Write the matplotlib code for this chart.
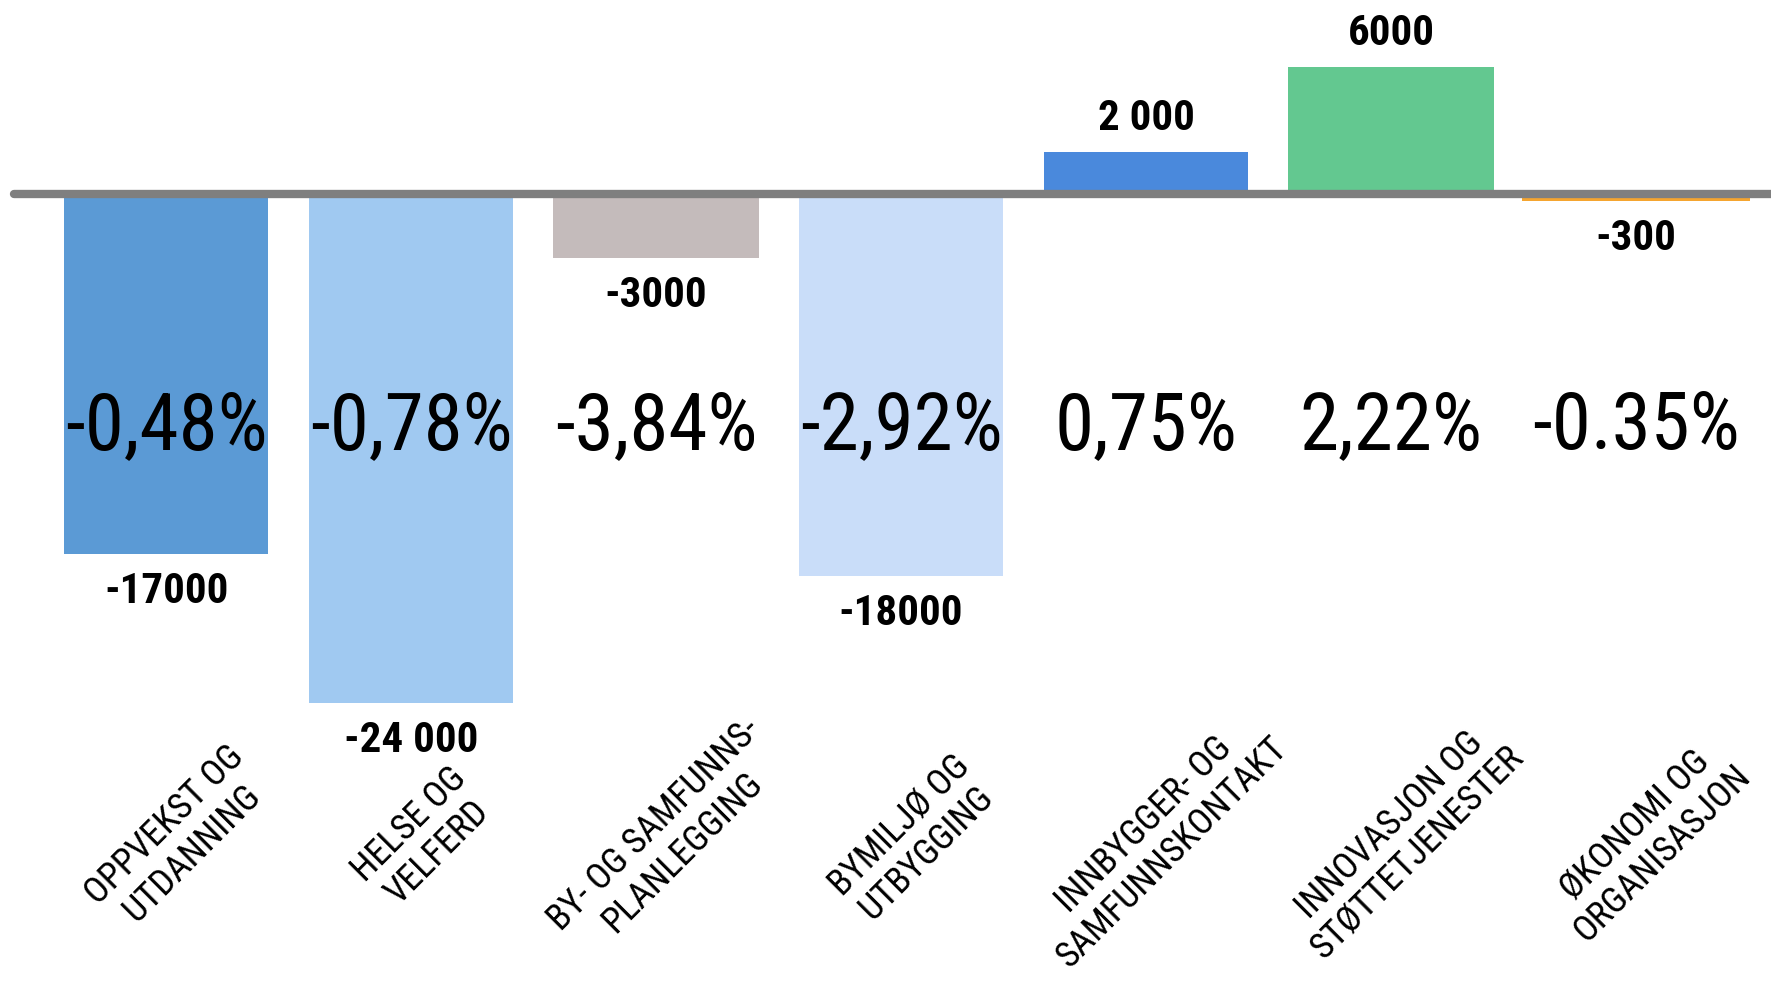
import matplotlib
matplotlib.use("Agg")
import matplotlib.pyplot as plt
from matplotlib import font_manager as fm
import matplotlib.transforms as mtransforms

# ---- data ----
categories = ["OPPVEKST OG\nUTDANNING", "HELSE OG\nVELFERD", "BY- OG SAMFUNNS-\nPLANLEGGING",
              "BYMILJØ OG\nUTBYGGING", "INNBYGGER- OG\nSAMFUNNSKONTAKT",
              "INNOVASJON OG\nSTØTTETJENESTER", "ØKONOMI OG\nORGANISASJON"]
values = [-17000, -24000, -3000, -18000, 2000, 6000, -300]
value_labels = ["-17000", "-24 000", "-3000", "-18000", "2 000", "6000", "-300"]
pct_labels = ["-0,48%", "-0,78%", "-3,84%", "-2,92%", "0,75%", "2,22%", "-0.35%"]
colors = ["#5B9AD5", "#A0C9F1", "#C4BBBB", "#C9DDF9", "#4A89DC", "#63C890", "#F5A52F"]
widths = [0.83, 0.83, 0.84, 0.83, 0.83, 0.84, 0.93]

# ---- font choice: narrowest available ----
names = {f.name for f in fm.fontManager.ttflist}
family = "DejaVu Sans"
stretch = "normal"
for cand in ["Liberation Sans Narrow", "Roboto Condensed", "Open Sans Condensed", "DejaVu Sans Condensed"]:
    if cand in names:
        family = cand
        break
else:
    cond = [f for f in fm.fontManager.ttflist if str(f.stretch) in ("condensed", "semi-condensed", "extra-condensed")
            and f.name in ("DejaVu Sans", "Roboto", "Open Sans", "Noto Sans", "Inter", "Lato")]
    if cond:
        family = cond[0].name
        stretch = str(cond[0].stretch)

plt.rcParams["font.family"] = [family, "DejaVu Sans"]

fig = plt.figure(figsize=(17.71, 9.81), dpi=100)
ax = fig.add_axes([0, 0, 1, 1])
x = list(range(len(values)))

ax.bar(x, values, width=widths, color=colors, zorder=2)
ax.plot([-0.62, 6.6], [0, 0], color="#7F7F7F", lw=6.0, solid_capstyle="round", zorder=3)

ax.set_xlim(-0.678, 6.551)
ax.set_ylim(-37144, 9174)
ax.axis("off")

for xi, v, lab in zip(x, values, value_labels):
    off = 24 if v > 0 else -27
    ax.annotate(lab, (xi, v), xytext=(0, off), textcoords="offset points",
                ha="center", va="center", fontsize=31, fontweight="bold",
                fontstretch=stretch, zorder=4)

for xi, lab in zip(x, pct_labels):
    ax.text(xi, -11000, lab, ha="center", va="center", fontsize=57,
            fontstretch=stretch, zorder=4)

trans = mtransforms.blended_transform_factory(ax.transData, fig.transFigure)
for xi, lab in zip(x, categories):
    ax.text(xi + 0.05, 0.145, lab, transform=trans, rotation=45, rotation_mode="anchor",
            ha="center", va="center", multialignment="center", fontsize=26,
            fontstretch=stretch, linespacing=1.12)

fig.savefig("out.png", dpi=100, facecolor="white")
